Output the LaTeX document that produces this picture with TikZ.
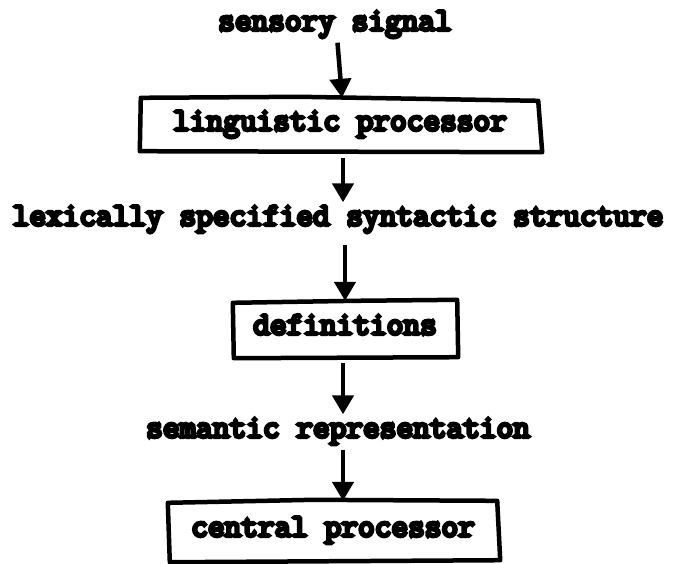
\documentclass[tikz,border=0pt]{standalone}
\usepackage{fontspec}
\newfontfamily\tw[FakeBold=10]{Latin Modern Mono}
\usetikzlibrary{arrows.meta,calc}
\begin{document}
\begin{tikzpicture}[x=1pt,y=-1pt,
  lbl/.style={font=\tw\fontsize{32.4}{34}\selectfont, inner sep=0pt,
              text height=17pt, text depth=6pt},
  boxline/.style={line width=4.5pt, line join=round, line cap=round},
  arr/.style={line width=4.5pt, -{Triangle[length=19pt,width=21pt]}}]
\useasboundingbox (0,0) rectangle (676,563);

% stages of the flow
\node[lbl] (sig) at (335,25) {sensory signal};
\node[lbl, minimum width=400pt, minimum height=54pt] (ling) at (340,125) {linguistic processor};
\node[lbl] (lex) at (338,220) {lexically specified syntactic structure};
\node[lbl, minimum width=224pt, minimum height=56pt] (defs) at (345,329) {definitions};
\node[lbl] (sem) at (338,432) {semantic representation};
\node[lbl, minimum width=330pt, minimum height=60pt] (cent) at (333,531) {central processor};

% hand-ruled frames round the processing boxes
\draw[boxline] ($(ling.north west)+(1,0)$) -- ($(ling.north)+(-40,-1)$) -- ($(ling.north east)+(-2,3)$)
  -- ($(ling.south east)+(2,0)$) -- ($(ling.south west)+(0,-1)$) -- cycle;
\draw[boxline] ($(defs.north west)+(0,2)$) -- ($(defs.north)+(10,0)$) -- ($(defs.north east)+(0,-1)$)
  -- ($(defs.south east)+(1,0)$) -- ($(defs.south west)+(1,1)$) -- cycle;
\draw[boxline] ($(cent.north west)+(0,2)$) -- ($(cent.north)+(-20,-1)$) -- ($(cent.north east)+(-1,0)$)
  -- ($(cent.south east)+(2,-1)$) -- ($(cent.south west)+(2,1)$) -- cycle;

% arrows between stages
\draw[arr, shorten <=6pt] ([xshift=2pt]sig.south) -- ([xshift=2pt]ling.north);
\draw[arr, shorten <=6pt, shorten >=6pt] ([xshift=3pt]ling.south) -- ([xshift=5pt]lex.north);
\draw[arr, shorten <=13pt] ([xshift=7pt]lex.south) -- (defs.north);
\draw[arr, shorten <=6pt, shorten >=6pt] ([xshift=-2pt]defs.south) -- ([xshift=5pt]sem.north);
\draw[arr, shorten <=6pt] ([xshift=5pt]sem.south) -- ([xshift=10pt]cent.north);
\end{tikzpicture}
\end{document}
